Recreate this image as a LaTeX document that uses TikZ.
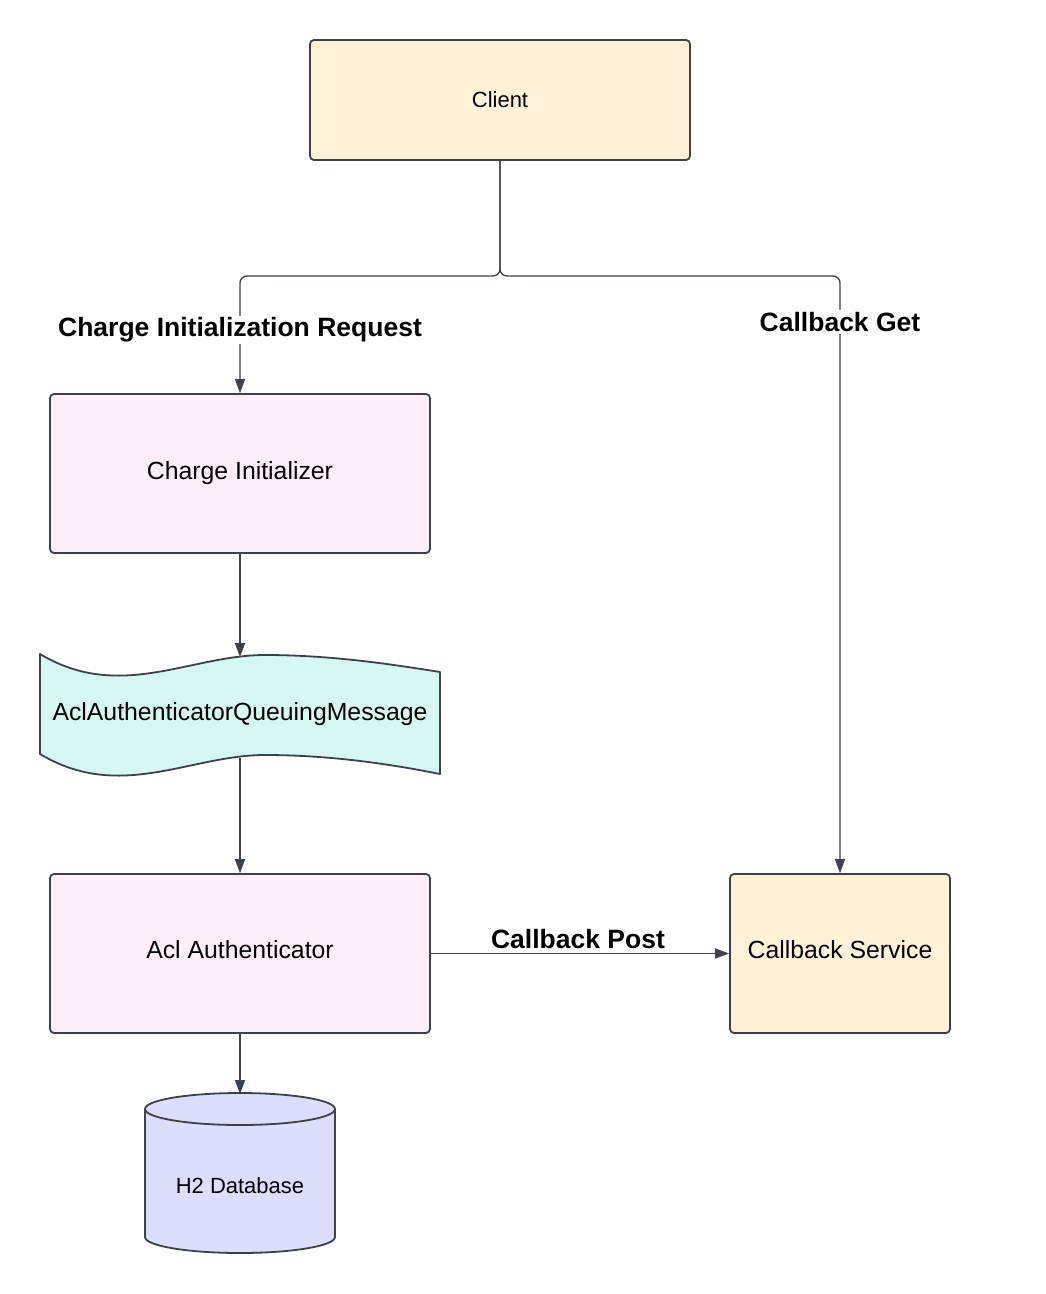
\documentclass[tikz,border=0pt]{standalone}
\usepackage{fontspec}
\setmainfont{Liberation Sans}
\usetikzlibrary{arrows.meta}
\definecolor{cream}{HTML}{FFF2D9}
\definecolor{pinkf}{HTML}{FDEFF9}
\definecolor{mint}{HTML}{D6F7F2}
\definecolor{lav}{HTML}{DCDEFB}
\definecolor{edge}{HTML}{3D424A}
\tikzset{
  box/.style={draw=edge, line width=1.8pt, rounded corners=4pt, inner sep=0pt, text=black},
  bigtxt/.style={font=\fontsize{24.8pt}{29pt}\selectfont},
  midtxt/.style={font=\fontsize{22pt}{26pt}\selectfont},
  lbl/.style={font=\fontsize{26.5pt}{31pt}\selectfont\bfseries, inner sep=2pt, text=black},
  conn/.style={draw=edge, line width=1.3pt, -{Triangle[length=14pt,width=10pt]}},
}
\begin{document}
\begin{tikzpicture}[x=1pt,y=-1pt]
\useasboundingbox (0,0) rectangle (1045,1294);
\fill[white] (0,0) rectangle (1045,1294);
\node[box, fill=cream, minimum width=380pt, minimum height=120pt, midtxt] (client) at (500,100) {\raisebox{1pt}{Client}};
\node[box, fill=pinkf, minimum width=380pt, minimum height=159pt, bigtxt] (ci) at (240,473.5) {Charge Initializer};
\node[box, fill=pinkf, minimum width=380pt, minimum height=159pt, bigtxt] (acl) at (240,953.5) {\raisebox{7pt}{Acl Authenticator}};
\node[box, fill=cream, minimum width=220pt, minimum height=159pt, bigtxt] (cs) at (840,953.5) {\raisebox{7pt}{Callback Service}};
% queue (wave shape)
\filldraw[fill=mint, draw=edge, line width=1.8pt, line join=round]
  (40,654) .. controls (120,702) and (190,655) .. (265,655)
           .. controls (330,655) and (390,664) .. (440,672)
  -- (440,774)
           .. controls (390,764) and (330,755) .. (265,755)
           .. controls (190,755) and (120,802) .. (40,754) -- cycle;
\node[bigtxt, text=black] (queue) at (240,714) {AclAuthenticatorQueuingMessage};
\coordinate (qtop) at (240,657);
\coordinate (qbot) at (240,758);
% database cylinder
\filldraw[fill=lav, draw=edge, line width=1.8pt]
  (145,1109) -- (145,1237) arc[start angle=180, end angle=360, x radius=95pt, y radius=16pt]
  -- (335,1109) arc[start angle=0, end angle=180, x radius=95pt, y radius=16pt] -- cycle;
\draw[edge, line width=1.8pt] (145,1109) arc[start angle=180, end angle=360, x radius=95pt, y radius=16pt];
\coordinate (dbtop) at (240,1094);
\node[midtxt, text=black] (db) at (240,1186) {H2 Database};
% connectors
\coordinate (j) at (500,276);
\draw[conn, rounded corners=7pt] (client.south) -- (j) -| (ci.north);
\draw[conn, rounded corners=7pt] (client.south) -- (j) -| (cs.north);
\node[lbl, fill=white] (lcir) at (240,330) {Charge Initialization Request};
\node[lbl, fill=white] (lcg) at (840,322) {Callback Get};
\draw[conn] (ci.south) -- (qtop);
\draw[conn] (qbot) -- (acl.north);
\draw[conn] (acl.south) -- (dbtop);
\draw[conn] (acl.east) -- (cs.west);
\node[lbl] (lcp) at (578,939) {Callback Post};
\end{tikzpicture}
\end{document}
